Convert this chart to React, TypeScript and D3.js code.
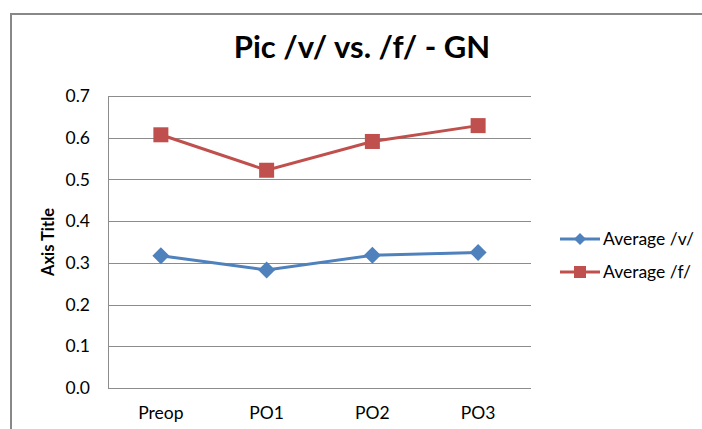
import React from "react";
import * as d3 from "d3";

const categories = ["Preop", "PO1", "PO2", "PO3"];
const averageV = [0.317, 0.283, 0.318, 0.325];
const averageF = [0.607, 0.522, 0.591, 0.629];
const yTicks = [0, 0.1, 0.2, 0.3, 0.4, 0.5, 0.6, 0.7];
const seriesNames = ["Average /v/", "Average /f/"];

const W = 702;
const H = 429;
const FONT = "Lato, 'Open Sans', sans-serif";
const BLUE = "#4F81BD";
const RED = "#C0504D";

export default function App() {
  const x = d3.scaleBand<string>().domain(categories).range([108, 531]);
  const y = d3.scaleLinear().domain([0, 0.7]).range([388, 96]);
  const cx = (c: string) => (x(c) as number) + x.bandwidth() / 2;
  const line = d3
    .line<number>()
    .x((_, i) => cx(categories[i]))
    .y((d) => y(d));

  const diamond = (px: number, py: number, r: number) =>
    `M${px},${py - r}L${px + r},${py}L${px},${py + r}L${px - r},${py}Z`;

  const series = [
    { name: seriesNames[0], values: averageV, color: BLUE, marker: "diamond" },
    { name: seriesNames[1], values: averageF, color: RED, marker: "square" },
  ];
  const legendY = [239, 272];

  return (
    <svg
      width={W}
      height={H}
      style={{ position: "absolute", left: 0, top: 0, background: "#fff" }}
    >
      <rect x={0} y={0} width={W} height={H} fill="#fff" />
      <path d={`M11,${H}V14H${W}`} fill="none" stroke="#888" strokeWidth={2} />
      <text
        x={362}
        y={58}
        textAnchor="middle"
        fontFamily={FONT}
        fontWeight="bold"
        fontSize={31}
        fill="#000"
      >
        Pic /v/ vs. /f/ - GN
      </text>
      {yTicks.map((t) => (
        <g key={t}>
          <line
            x1={108}
            x2={531}
            y1={Math.round(y(t)) + 0.5}
            y2={Math.round(y(t)) + 0.5}
            stroke="#8c8c8c"
            strokeWidth={1}
          />
          <text
            x={90}
            y={y(t)}
            dy="0.35em"
            textAnchor="end"
            fontFamily={FONT}
            fontSize={17.5}
            fill="#000"
          >
            {d3.format(".1f")(t)}
          </text>
        </g>
      ))}
      <line x1={108.5} x2={108.5} y1={96} y2={388} stroke="#8c8c8c" strokeWidth={1} />
      {categories.map((c) => (
        <text
          key={c}
          x={cx(c)}
          y={419}
          textAnchor="middle"
          fontFamily={FONT}
          fontSize={17.5}
          fill="#000"
        >
          {c}
        </text>
      ))}
      <text
        transform={`translate(48,${(96 + 388) / 2}) rotate(-90)`}
        textAnchor="middle"
        dy="0.35em"
        fontFamily={FONT}
        fontWeight="bold"
        fontSize={16.5}
        fill="#000"
      >
        Axis Title
      </text>
      {series.map((s) => (
        <g key={s.name}>
          <path d={line(s.values) as string} fill="none" stroke={s.color} strokeWidth={3} />
          {s.values.map((v, i) =>
            s.marker === "diamond" ? (
              <path key={i} d={diamond(cx(categories[i]), y(v), 8.5)} fill={s.color} />
            ) : (
              <rect
                key={i}
                x={cx(categories[i]) - 7.5}
                y={y(v) - 7.5}
                width={15}
                height={15}
                fill={s.color}
              />
            )
          )}
        </g>
      ))}
      {series.map((s, i) => (
        <g key={s.name}>
          <line x1={560} x2={600} y1={legendY[i]} y2={legendY[i]} stroke={s.color} strokeWidth={3} />
          {s.marker === "diamond" ? (
            <path d={diamond(580, legendY[i], 6)} fill={s.color} />
          ) : (
            <rect x={574} y={legendY[i] - 6} width={12} height={12} fill={s.color} />
          )}
          <text
            x={603}
            y={legendY[i]}
            dy="0.35em"
            fontFamily={FONT}
            fontSize={17.5}
            fill="#000"
          >
            {s.name}
          </text>
        </g>
      ))}
    </svg>
  );
}
